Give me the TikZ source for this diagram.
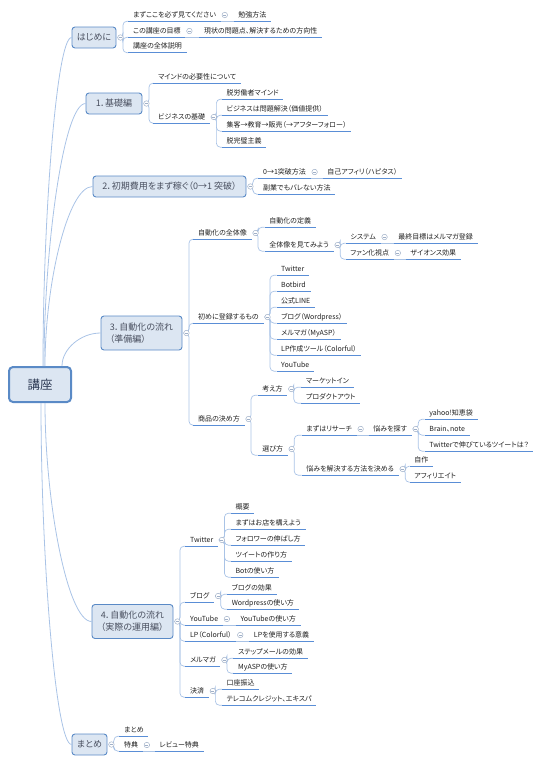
\documentclass[tikz,border=0pt]{standalone}
\usepackage{fontspec}
\setmainfont{Noto Sans CJK JP}[RawFeature={+palt}]
\usetikzlibrary{calc}
\definecolor{bfill}{HTML}{DCE6F2}
\definecolor{bbord}{HTML}{5A8AC6}
\definecolor{ulc}{HTML}{5A8ED6}
\definecolor{linkc}{HTML}{A9C3E6}
\definecolor{colc}{HTML}{A0B0C8}
\definecolor{roottext}{HTML}{2E3B55}
\definecolor{brtext}{HTML}{4A5060}
\definecolor{leaftext}{HTML}{202020}
\newcommand\mmfan[2]{\foreach \mmc in {#2}{\draw[mmlink,rounded corners=4pt] ([xshift=4pt]#1.east) -- ([xshift=6.5pt]#1.east) |- (\mmc.south west);}}
\newcommand\mmone[2]{\draw[mmlink] (#1.south east) -- (#2.south west);}
\newcommand\mmcol[1]{\node[colbtn] at ([xshift=4pt]#1.east) {};}
\begin{document}
\begin{tikzpicture}[x=1pt,y=-1pt,
  rootbox/.style={draw=bbord, line width=2pt, fill=bfill, rounded corners=4pt, font=\fontsize{12.5}{15}\selectfont, text=roottext, minimum width=62pt, minimum height=35pt, inner sep=0pt},
  brbox/.style={draw=bbord, line width=0.9pt, fill=bfill, rounded corners=3pt, font=\fontsize{9}{12}\selectfont, text=brtext, inner sep=0pt},
  leaf/.style={anchor=west, font=\fontsize{7}{8}\selectfont, text=leaftext, inner xsep=4.5pt, inner ysep=2.5pt, text height=5.5pt, text depth=1.5pt},
  uline/.style={draw=ulc, line width=1.4pt},
  mmlink/.style={draw=linkc, line width=0.7pt},
  rlink/.style={draw=linkc, line width=0.8pt},
  colbtn/.style={circle, draw=colc, fill=white, line width=0.5pt, minimum size=5.5pt, inner sep=0pt,
    path picture={\draw[colc, line width=0.5pt] ([xshift=1.3pt]path picture bounding box.west) -- ([xshift=-1.3pt]path picture bounding box.east);}}
]
\useasboundingbox (0,0) rectangle (533,764);
% root and branches
\node[rootbox] (r) at (40,384.5) {講座};
\node[brbox, minimum width=44pt, minimum height=21pt] (a) at (94,37.5) {はじめに};
\node[brbox, minimum width=56pt, minimum height=21pt] (b) at (114,103.5) {1．基礎編};
\node[brbox, minimum width=153pt, minimum height=21pt] (c) at (169.5,186.5) {2．初期費用をまず稼ぐ（0→1 突破）};
\node[brbox, minimum width=81pt, minimum height=34pt, align=left] (d) at (141.5,333) {3．自動化の流れ\\（準備編）};
\node[brbox, minimum width=81pt, minimum height=34pt, align=left] (e) at (132.5,621.5) {4．自動化の流れ\\（実際の運用編）};
\node[brbox, minimum width=35pt, minimum height=21pt] (f) at (89.5,744.5) {まとめ};
% A
\node[leaf,xshift=12pt] (a1) at (a.east |- 0,15) {まずここを必ず見てください};
\node[leaf,xshift=12pt] (a2) at (a.east |- 0,31) {この講座の目標};
\node[leaf,xshift=12pt] (a3) at (a.east |- 0,46.5) {講座の全体説明};
\node[leaf,xshift=13pt] (a11) at (a1.east) {勉強方法};
\node[leaf,xshift=14pt] (a21) at (a2.east) {現状の問題点、解決するための方向性};
% B
\node[leaf,xshift=11pt] (b1) at (b.east |- 0,77) {マインドの必要性について};
\node[leaf,xshift=11pt] (b2) at (b.east |- 0,117) {ビジネスの基礎};
\node[leaf,xshift=12pt] (b21) at (b2.east |- 0,93) {脱労働者マインド};
\node[leaf,xshift=12pt] (b22) at (b2.east |- 0,109) {ビジネスは問題解決（価値提供）};
\node[leaf,xshift=12pt] (b23) at (b2.east |- 0,125) {集客→教育→販売（→アフターフォロー）};
\node[leaf,xshift=12pt] (b24) at (b2.east |- 0,141) {脱完璧主義};
% C
\node[leaf,xshift=12pt] (c1) at (c.east |- 0,172) {0→1突破方法};
\node[leaf,xshift=12pt] (c2) at (c.east |- 0,188) {副業でもバレない方法};
\node[leaf,xshift=12pt] (c11) at (c1.east) {自己アフィリ（ハピタス）};
% D
\node[leaf,xshift=11pt] (d1) at (d.east |- 0,233) {自動化の全体像};
\node[leaf,xshift=11pt] (d2) at (d.east |- 0,317) {初めに登録するもの};
\node[leaf,xshift=11pt] (d3) at (d.east |- 0,419) {商品の決め方};
\node[leaf,xshift=13pt] (d11) at (d1.east |- 0,221) {自動化の定義};
\node[leaf,xshift=13pt] (d12) at (d1.east |- 0,245) {全体像を見てみよう};
\node[leaf,xshift=12pt] (d121) at (d12.east |- 0,237) {システム};
\node[leaf,xshift=12pt] (d122) at (d12.east |- 0,253) {ファン化視点};
\node[leaf,xshift=13pt] (d1211) at (d121.east) {最終目標はメルマガ登録};
\node[leaf,xshift=12pt] (d1221) at (d122.east) {ザイオンス効果};
\node[leaf,xshift=13pt] (d21) at (d2.east |- 0,269) {Twitter};
\node[leaf,xshift=13pt] (d22) at (d2.east |- 0,285) {Botbird};
\node[leaf,xshift=13pt] (d23) at (d2.east |- 0,301) {公式LINE};
\node[leaf,xshift=13pt] (d24) at (d2.east |- 0,317) {ブログ（Wordpress）};
\node[leaf,xshift=13pt] (d25) at (d2.east |- 0,333) {メルマガ（MyASP）};
\node[leaf,xshift=13pt] (d26) at (d2.east |- 0,349) {LP作成ツール（Colorful）};
\node[leaf,xshift=13pt] (d27) at (d2.east |- 0,365) {YouTube};
\node[leaf,xshift=13pt] (d31) at (d3.east |- 0,389) {考え方};
\node[leaf,xshift=13pt] (d32) at (d3.east |- 0,449) {選び方};
\node[leaf,xshift=14pt] (d311) at (d31.east |- 0,381) {マーケットイン};
\node[leaf,xshift=14pt] (d312) at (d31.east |- 0,397) {プロダクトアウト};
\node[leaf,xshift=14pt] (d321) at (d32.east |- 0,429) {まずはリサーチ};
\node[leaf,xshift=14pt] (d322) at (d32.east |- 0,469) {悩みを解決する方法を決める};
\node[leaf,xshift=12pt] (d3211) at (d321.east) {悩みを探す};
\node[leaf,xshift=13pt] (d3x1) at (d3211.east |- 0,413) {yahoo!知恵袋};
\node[leaf,xshift=13pt] (d3x2) at (d3211.east |- 0,429) {Brain、note};
\node[leaf,xshift=13pt] (d3x3) at (d3211.east |- 0,445) {Twitterで伸びているツイートは？};
\node[leaf,xshift=11pt] (d3y1) at (d322.east |- 0,460) {自作};
\node[leaf,xshift=11pt] (d3y2) at (d322.east |- 0,476) {アフィリエイト};
% E
\node[leaf,xshift=12pt] (e1) at (e.east |- 0,540) {Twitter};
\node[leaf,xshift=12pt] (e2) at (e.east |- 0,596) {ブログ};
\node[leaf,xshift=12pt] (e3) at (e.east |- 0,619) {YouTube};
\node[leaf,xshift=12pt] (e4) at (e.east |- 0,635) {LP（Colorful）};
\node[leaf,xshift=12pt] (e5) at (e.east |- 0,660) {メルマガ};
\node[leaf,xshift=12pt] (e6) at (e.east |- 0,691) {決済};
\node[leaf,xshift=13pt] (e11) at (e1.east |- 0,507) {概要};
\node[leaf,xshift=13pt] (e12) at (e1.east |- 0,523) {まずはお店を構えよう};
\node[leaf,xshift=13pt] (e13) at (e1.east |- 0,539) {フォロワーの伸ばし方};
\node[leaf,xshift=13pt] (e14) at (e1.east |- 0,555) {ツイートの作り方};
\node[leaf,xshift=13pt] (e15) at (e1.east |- 0,571) {Botの使い方};
\node[leaf,xshift=13pt] (e21) at (e2.east |- 0,588) {ブログの効果};
\node[leaf,xshift=13pt] (e22) at (e2.east |- 0,603) {Wordpressの使い方};
\node[leaf,xshift=13pt] (e31) at (e3.east) {YouTubeの使い方};
\node[leaf,xshift=13pt] (e41) at (e4.east) {LPを使用する意義};
\node[leaf,xshift=13pt] (e51) at (e5.east |- 0,652) {ステップメールの効果};
\node[leaf,xshift=13pt] (e52) at (e5.east |- 0,667) {MyASPの使い方};
\node[leaf,xshift=13pt] (e61) at (e6.east |- 0,683) {口座振込};
\node[leaf,xshift=13pt] (e62) at (e6.east |- 0,699) {テレコムクレジット、エキスパ};
% F
\node[leaf,xshift=12pt] (f1) at (f.east |- 0,730) {まとめ};
\node[leaf,xshift=12pt] (f2) at (f.east |- 0,745) {特典};
\node[leaf,xshift=12pt] (f21) at (f2.east) {レビュー特典};
% root links
\draw[rlink] ($(r.north)+(3,0)$) .. controls ($(r.north)+(3,-148)$) and ($(a.west)+(-15,0)$) .. (a.west);
\draw[rlink] ($(r.north)+(4,0)$) .. controls ($(r.north)+(4,-118)$) and ($(b.west)+(-22,0)$) .. (b.west);
\draw[rlink] ($(r.north)+(5,0)$) .. controls ($(r.north)+(5,-81)$) and ($(c.west)+(-25,0)$) .. (c.west);
\draw[rlink] ($(r.north)+(22,0)$) .. controls ($(r.north)+(22,-17)$) and ($(d.west)+(-20,0)$) .. (d.west);
\draw[rlink] ($(r.south)+(5,0)$) .. controls ($(r.south)+(5,99)$) and ($(e.west)+(-24,0)$) .. (e.west);
\draw[rlink] ($(r.south)+(1,0)$) .. controls ($(r.south)+(1,154)$) and ($(f.west)+(-16,0)$) .. (f.west);
% branch links
\mmfan{a}{a1,a2,a3}
\mmone{a1}{a11}
\mmone{a2}{a21}
\mmfan{b}{b1,b2}
\mmfan{b2}{b21,b22,b23,b24}
\mmfan{c}{c1,c2}
\mmone{c1}{c11}
\mmfan{d}{d1,d2,d3}
\mmfan{d1}{d11,d12}
\mmfan{d12}{d121,d122}
\mmone{d121}{d1211}
\mmone{d122}{d1221}
\mmfan{d2}{d21,d22,d23,d24,d25,d26,d27}
\mmfan{d3}{d31,d32}
\mmfan{d31}{d311,d312}
\mmfan{d32}{d321,d322}
\mmone{d321}{d3211}
\mmfan{d3211}{d3x1,d3x2,d3x3}
\mmfan{d322}{d3y1,d3y2}
\mmfan{e}{e1,e2,e3,e4,e5,e6}
\mmfan{e1}{e11,e12,e13,e14,e15}
\mmfan{e2}{e21,e22}
\mmone{e3}{e31}
\mmone{e4}{e41}
\mmfan{e5}{e51,e52}
\mmfan{e6}{e61,e62}
\mmfan{f}{f1,f2}
\mmone{f2}{f21}
% underlines
\foreach \n in {a1,a2,a3,a11,a21,b1,b2,b21,b22,b23,b24,c1,c2,c11,d1,d2,d3,d11,d12,d121,d122,d1211,d1221,d21,d22,d23,d24,d25,d26,d27,d31,d32,d311,d312,d321,d322,d3211,d3x1,d3x2,d3x3,d3y1,d3y2,e1,e2,e3,e4,e5,e6,e11,e12,e13,e14,e15,e21,e22,e31,e41,e51,e52,e61,e62,f1,f2,f21}
  {\draw[uline] (\n.south west) -- (\n.south east);}
% collapse buttons
\foreach \n in {a,a1,a2,b,b2,c,c1,d,d1,d12,d121,d122,d2,d3,d31,d32,d321,d3211,d322,e,e1,e2,e3,e4,e5,e6,f,f2}
  {\mmcol{\n}}
\end{tikzpicture}
\end{document}
